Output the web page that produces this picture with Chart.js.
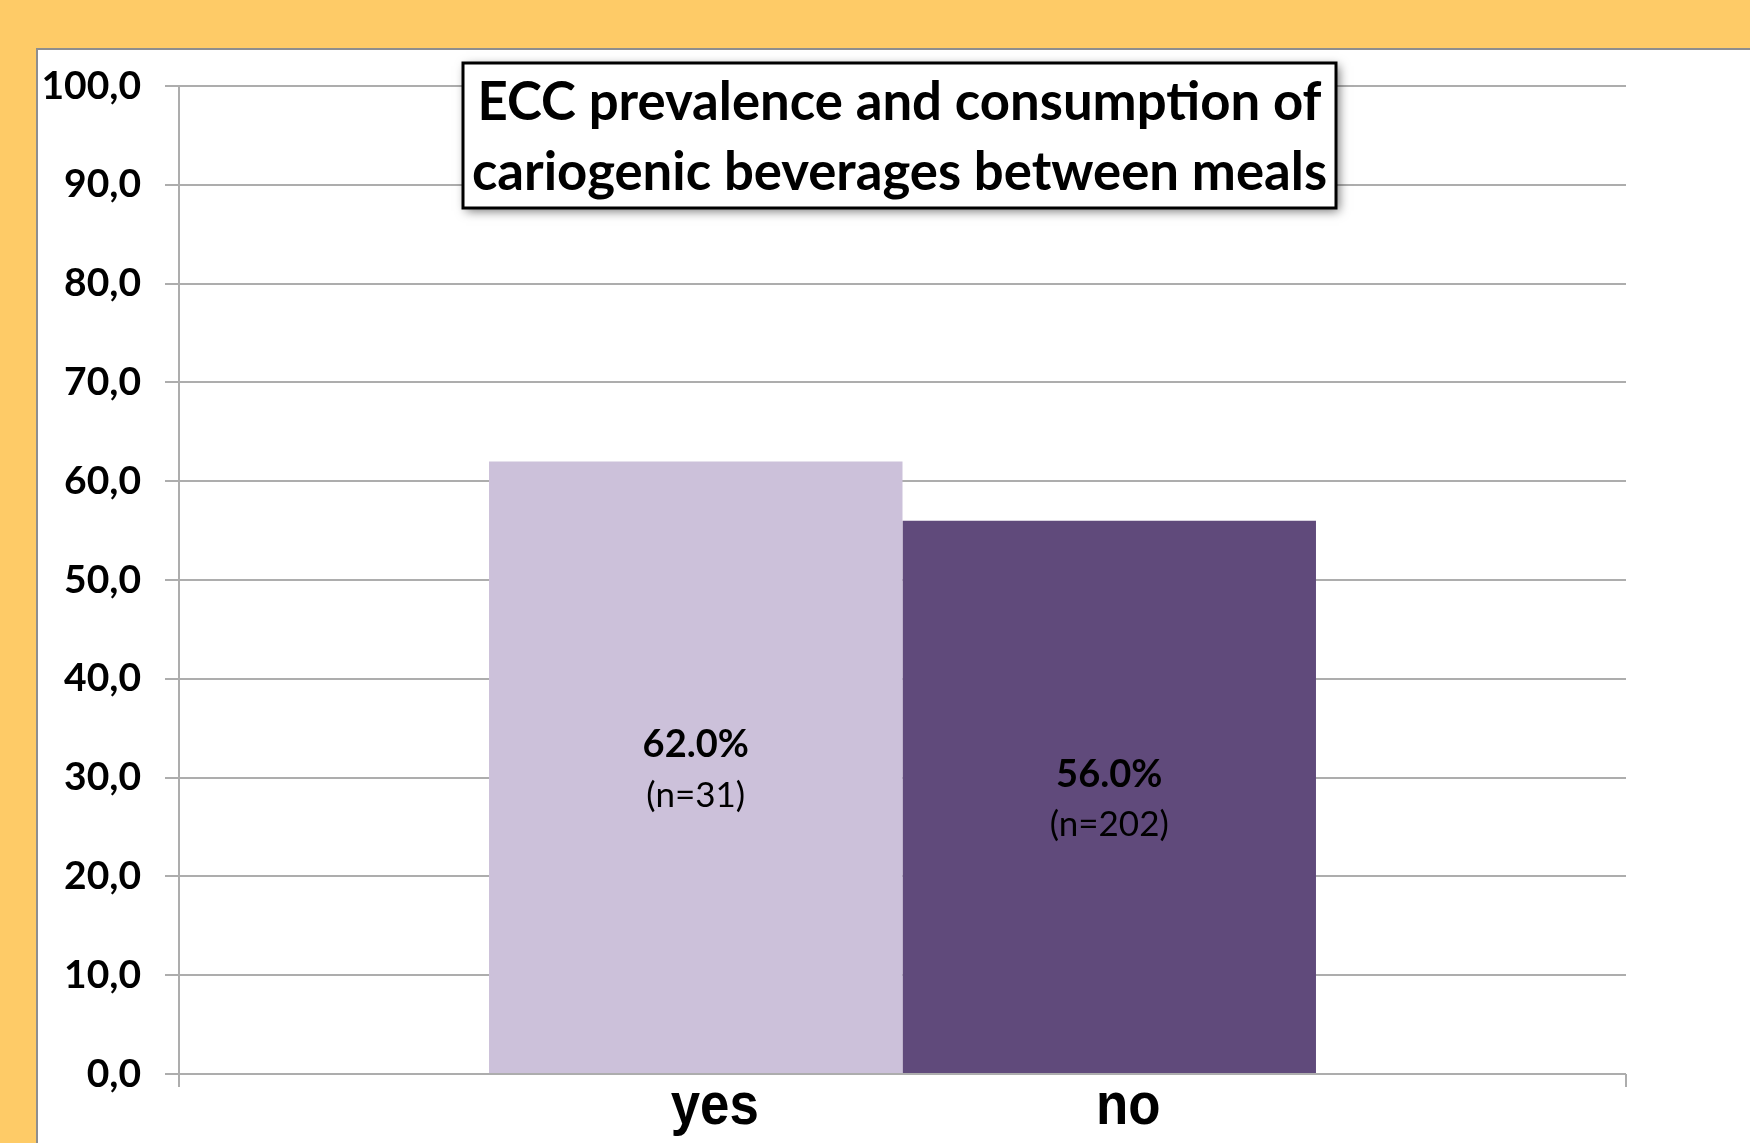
<!DOCTYPE html>
<html>
<head>
<meta charset="utf-8">
<title>ECC prevalence and consumption of cariogenic beverages between meals</title>
<script src="https://cdn.jsdelivr.net/npm/chart.js@4.4.0/dist/chart.umd.min.js"></script>
<style>
  html, body { margin: 0; padding: 0; }
  body { width: 1750px; height: 1143px; background: #FECB67; overflow: hidden; position: relative; }
  #panel {
    position: absolute; left: 36px; top: 48px; right: 0; bottom: 0;
    background: #fff;
    border-top: 2px solid #8e8e8e;
    border-left: 2px solid #8e8e8e;
  }
  #chart { display: block; }
</style>
</head>
<body>
<div id="panel"><canvas id="chart" width="1712" height="1093"></canvas></div>
<script>
// ========================
// DATA
// ========================
const categories = ['yes', 'no'];
const prevalence = [62.0, 56.0];      // % with ECC
const sampleSizes = [31, 202];        // n per group
const barColors = ['#CCC1DA', '#604A7B'];
const yTickValues = [0, 10, 20, 30, 40, 50, 60, 70, 80, 90, 100];
const titleLines = [
  'ECC prevalence and consumption of',
  'cariogenic beverages between meals'
];

const GRID = '#ADADAD';

// ========================
// PLUGINS
// ========================

// value + n label centred inside each bar
const barLabels = {
  id: 'barLabels',
  afterDatasetsDraw(chart) {
    const ctx = chart.ctx;
    ctx.save();
    ctx.fillStyle = '#000';
    ctx.textAlign = 'center';
    ctx.textBaseline = 'middle';
    chart.data.datasets.forEach((ds, i) => {
      const bar = chart.getDatasetMeta(i).data[0];
      const mid = (bar.y + bar.base) / 2;
      ctx.font = 'bold 38px Lato';
      ctx.fillText(prevalence[i].toFixed(1) + '%', bar.x, mid - 22);
      ctx.font = '35px Lato';
      ctx.fillText('(n=' + sampleSizes[i] + ')', bar.x, mid + 28);
    });
    ctx.restore();
  }
};

// yes / no under the bars (slightly condensed like the original)
const groupLabels = {
  id: 'groupLabels',
  afterDraw(chart) {
    const ctx = chart.ctx;
    const bottom = chart.chartArea.bottom;
    ctx.save();
    ctx.fillStyle = '#000';
    ctx.textAlign = 'center';
    ctx.textBaseline = 'alphabetic';
    ctx.font = 'bold 60px "Liberation Sans", Arial';
    chart.data.datasets.forEach((ds, i) => {
      const bar = chart.getDatasetMeta(i).data[0];
      ctx.save();
      ctx.translate(bar.x + 19, bottom + 50);
      ctx.scale(0.88, 1);
      ctx.fillText(categories[i], 0, 0);
      ctx.restore();
    });
    ctx.restore();
  }
};

// boxed title with shadow, overlapping the plot
const titleBox = {
  id: 'titleBox',
  afterDraw(chart) {
    const ctx = chart.ctx;
    const box = { x: 425, y: 13, w: 873, h: 145 };
    ctx.save();
    ctx.shadowColor = 'rgba(0,0,0,0.55)';
    ctx.shadowBlur = 10;
    ctx.shadowOffsetX = 3;
    ctx.shadowOffsetY = 3;
    ctx.fillStyle = '#fff';
    ctx.fillRect(box.x, box.y, box.w, box.h);
    ctx.shadowColor = 'transparent';
    ctx.lineWidth = 3;
    ctx.strokeStyle = '#000';
    ctx.strokeRect(box.x, box.y, box.w, box.h);

    ctx.fillStyle = '#000';
    ctx.textAlign = 'center';
    ctx.textBaseline = 'alphabetic';
    ctx.font = 'bold 52.7px Lato';
    const cx = box.x + box.w / 2;
    ctx.fillText(titleLines[0], cx, 70);
    ctx.fillText(titleLines[1], cx, 140);
    ctx.restore();
  }
};

// ========================
// CHART
// ========================
new Chart(document.getElementById('chart'), {
  type: 'bar',
  data: {
    labels: [''],
    datasets: categories.map((c, i) => ({
      label: c,
      data: [prevalence[i]],
      backgroundColor: barColors[i],
      borderWidth: 0,
      categoryPercentage: 0.5715,
      barPercentage: 1
    }))
  },
  options: {
    responsive: false,
    animation: false,
    layout: { padding: { top: 36, right: 124, left: 0, bottom: 0 } },
    plugins: {
      legend: { display: false },
      tooltip: { enabled: false },
      title: { display: false }
    },
    scales: {
      x: {
        afterFit: s => { s.height = 69; s.paddingLeft = 0; s.paddingRight = 0; },
        ticks: { display: false },
        border: { display: false },
        grid: {
          offset: true,
          drawOnChartArea: false,
          tickLength: 13,
          color: GRID,
          lineWidth: 2
        }
      },
      y: {
        min: 0,
        max: 100,
        afterFit: s => { s.width = 141; s.paddingTop = 0; s.paddingBottom = 0; },
        afterBuildTicks: s => { s.ticks = yTickValues.map(v => ({ value: v })); },
        border: { display: true, color: GRID, width: 2 },
        grid: { color: GRID, lineWidth: 2, tickLength: 14 },
        ticks: {
          padding: 24,
          color: '#000',
          font: { family: 'Lato', weight: 'bold', size: 39 },
          callback: v => v.toFixed(1).replace('.', ',')
        }
      }
    }
  },
  plugins: [barLabels, groupLabels, titleBox]
});
</script>
</body>
</html>
